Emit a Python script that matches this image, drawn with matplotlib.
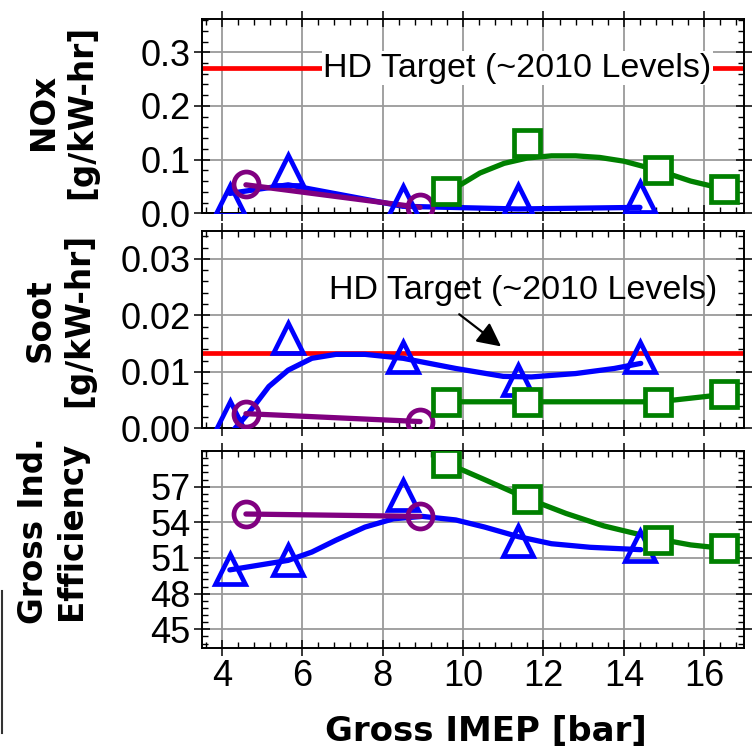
import matplotlib
matplotlib.use("Agg")
import matplotlib.pyplot as plt
from matplotlib.ticker import AutoMinorLocator, FixedLocator
from matplotlib.lines import Line2D

plt.rcParams['font.family'] = ['Liberation Sans', 'DejaVu Sans']

# marker data
blue_x = [4.2, 5.65, 8.5, 11.37, 14.4]
purple_x = [4.6, 8.93]
green_x = [9.58, 11.6, 14.85, 16.5]

nox_blue = [0.024, 0.08, 0.022, 0.024, 0.03]
nox_purple = [0.055, 0.011]
nox_green = [0.042, 0.131, 0.081, 0.045]

soot_blue = [0.0022, 0.016, 0.0126, 0.0085, 0.0126]
soot_purple = [0.0026, 0.0012]
soot_green = [0.0047, 0.0047, 0.0047, 0.006]

eff_blue = [50.1, 50.85, 56.3, 52.45, 52.0]
eff_purple = [54.7, 54.5]
eff_green = [59.0, 56.0, 52.5, 51.8]

# fitted lines as drawn in the figure
nox_blue_line_x = [4.2, 5.65, 8.5, 11.37, 14.4]
nox_blue_line_y = [0.037, 0.053, 0.013, 0.008, 0.011]
nox_purple_line_y = [0.053, 0.011]
nox_green_line_x = [9.58, 10.0, 10.42, 11.02, 11.6, 12.2, 12.8, 13.4, 14.0, 14.85, 15.66, 16.5]
nox_green_line_y = [0.038, 0.056, 0.075, 0.093, 0.103, 0.107, 0.107, 0.104, 0.097, 0.08, 0.06, 0.045]

soot_blue_line_x = [4.2, 4.33, 4.69, 5.17, 5.65, 6.24, 6.84, 7.56, 8.51, 9.82, 11.0, 11.7, 12.8, 13.76, 14.42]
soot_blue_line_y = [-0.001, 0.0, 0.0029, 0.0074, 0.0103, 0.0124, 0.0131, 0.0131, 0.0124, 0.0106,
                    0.0092, 0.0091, 0.0097, 0.0106, 0.0115]
soot_purple_line_y = [0.0026, 0.0012]
soot_green_line_y = [0.0047, 0.0047, 0.0047, 0.006]

eff_blue_line_x = [4.2, 5.65, 6.24, 6.84, 7.56, 8.27, 8.99, 9.82, 10.54, 11.37, 12.2, 13.16, 14.42]
eff_blue_line_y = [50.0, 50.8, 51.5, 52.5, 53.6, 54.3, 54.5, 54.2, 53.6, 52.8, 52.2, 51.9, 51.7]
eff_purple_line_y = [54.7, 54.5]
eff_green_line_x = [9.58, 10.6, 11.6, 12.56, 13.5, 14.85, 15.66, 16.5]
eff_green_line_y = [59.0, 57.5, 56.0, 54.75, 53.7, 52.6, 52.1, 51.8]

nox_target = 0.27
soot_target = 0.0133

x_ticks = [4, 6, 8, 10, 12, 14, 16]
nox_ticks = [0.0, 0.1, 0.2, 0.3]
soot_ticks = [0.00, 0.01, 0.02, 0.03]
eff_ticks = [45, 48, 51, 54, 57]

BLUE = '#0000ff'
PURPLE = '#800080'
GREEN = '#008000'
RED = '#ff0000'

fig = plt.figure(figsize=(7.54, 7.47), dpi=100)
ax1 = fig.add_axes([0.2675, 0.7145, 0.7199, 0.2601])
ax2 = fig.add_axes([0.2675, 0.4266, 0.7199, 0.2646])
ax3 = fig.add_axes([0.2675, 0.1321, 0.7199, 0.2646])


def style(ax, yticks, fmt, ylim):
    ax.set_xlim(3.5, 17)
    ax.set_ylim(*ylim)
    ax.xaxis.set_major_locator(FixedLocator(x_ticks))
    ax.yaxis.set_major_locator(FixedLocator(yticks))
    ax.xaxis.set_minor_locator(AutoMinorLocator(5))
    ax.yaxis.set_minor_locator(AutoMinorLocator(5))
    ax.set_yticklabels([fmt.format(v) for v in yticks])
    ax.grid(True, which='major', color='#9a9a9a', lw=1.3, zorder=0)
    ax.tick_params(which='major', direction='inout', length=12, width=1.1,
                   top=True, right=True, labelsize=26, pad=2)
    ax.tick_params(which='minor', direction='in', length=4, width=1.0,
                   top=True, right=True)
    for s in ax.spines.values():
        s.set_linewidth(1.4)
    ax.set_axisbelow(True)


def series(ax, x, y, lx, ly, color, marker, ms, face):
    ax.plot(lx, ly, color=color, lw=3.8, zorder=3, solid_capstyle='round')
    ax.plot(x, y, ls='none', marker=marker, ms=ms, mec=color, mfc=face, mew=3.4, zorder=4)


# NOx
style(ax1, nox_ticks, '{:.1f}', (0, 0.362))
ax1.axhline(nox_target, color=RED, lw=3.4, zorder=2)
series(ax1, blue_x, nox_blue, nox_blue_line_x, nox_blue_line_y, BLUE, '^', 22, 'none')
series(ax1, purple_x, nox_purple, purple_x, nox_purple_line_y, PURPLE, 'o', 18, 'none')
series(ax1, green_x, nox_green, nox_green_line_x, nox_green_line_y, GREEN, 's', 19, 'white')
ax1.text(11.35, nox_target, 'HD Target (~2010 Levels)', fontsize=24.5, ha='center', va='center',
         bbox=dict(facecolor='white', edgecolor='none', pad=1), zorder=5)
ax1.tick_params(labelbottom=False)

# Soot
style(ax2, soot_ticks, '{:.2f}', (0, 0.035))
ax2.axhline(soot_target, color=RED, lw=3.4, zorder=2)
series(ax2, blue_x, soot_blue, soot_blue_line_x, soot_blue_line_y, BLUE, '^', 22, 'none')
series(ax2, purple_x, soot_purple, purple_x, soot_purple_line_y, PURPLE, 'o', 18, 'none')
series(ax2, green_x, soot_green, green_x, soot_green_line_y, GREEN, 's', 19, 'white')
ax2.text(11.5, 0.0244, 'HD Target (~2010 Levels)', fontsize=24.5, ha='center', va='center', zorder=5)
ax2.annotate('', xy=(11.0, 0.0142), xytext=(9.85, 0.0205),
             arrowprops=dict(arrowstyle='-|>', color='black', lw=1.6, mutation_scale=36), zorder=5)
ax2.tick_params(labelbottom=False)

# Efficiency
style(ax3, eff_ticks, '{:d}', (43.4, 60.03))
series(ax3, blue_x, eff_blue, eff_blue_line_x, eff_blue_line_y, BLUE, '^', 22, 'none')
series(ax3, purple_x, eff_purple, purple_x, eff_purple_line_y, PURPLE, 'o', 18, 'none')
series(ax3, green_x, eff_green, eff_green_line_x, eff_green_line_y, GREEN, 's', 19, 'white')

lab = dict(fontsize=23.5, fontweight='bold', family='DejaVu Sans')
ax1.set_ylabel('NOx\n[g/kW-hr]', **lab)
ax1.yaxis.set_label_coords(-0.191, 0.521)
ax2.set_ylabel('Soot\n[g/kW-hr]', **lab)
ax2.yaxis.set_label_coords(-0.197, 0.548)
ax3.set_ylabel('Gross Ind.\nEfficiency', **lab)
ax3.yaxis.set_label_coords(-0.209, 0.594)
ax3.set_xlabel('Gross IMEP [bar]', fontsize=24.5, fontweight='bold', family='DejaVu Sans')
ax3.xaxis.set_label_coords(0.523, -0.335)

# stray frame edge at the left of the original
fig.add_artist(Line2D([0.002, 0.002], [0.0191, 0.2092], color='#333333', lw=1.5))

fig.savefig('out.png', dpi=100)
